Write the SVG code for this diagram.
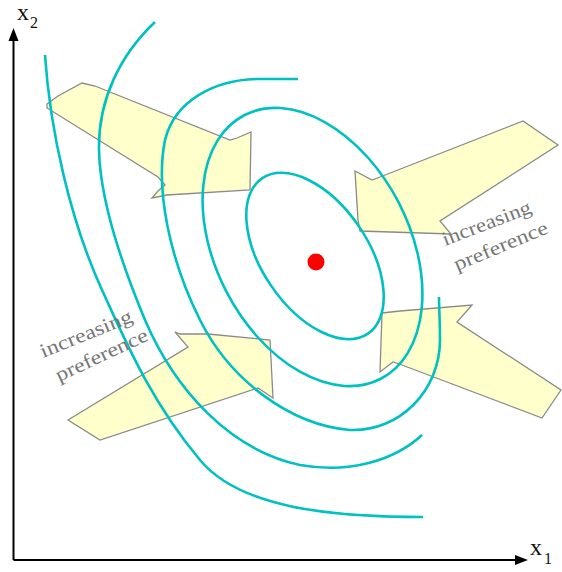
<svg xmlns="http://www.w3.org/2000/svg" width="562" height="572" viewBox="0 0 562 572">
<style>
.arr{fill:#FFFFCC;stroke:#8a8a8a;stroke-width:1.3;stroke-linejoin:miter}
.ct{fill:none;stroke:#00C0C0;stroke-width:2.6;stroke-linecap:butt}
.ax{stroke:#000;stroke-width:2;fill:none}
.lab{font-family:"Liberation Serif",serif;fill:#777;font-size:20px}
.axl{font-family:"Liberation Serif",serif;fill:#111}
</style>
<rect width="562" height="572" fill="#fff"/>
<g id="arrows">
<polygon id="arrow-tl" class="arr" points="47,104 58,96 82,83 95,86 230,140 237,138 251,132 250,190 167,195 152,198 158,191 165,185 158,177 47,108"/>
<polygon id="arrow-tr" class="arr" points="355,171 372,180 380,177 523,121 558,145 440,221 451,234 360,231 358,220"/>
<polygon id="arrow-br" class="arr" points="382,313 400,311 472,305 457,322 561,390 542,418 402,365 393,362 380,372"/>
<polygon id="arrow-bl" class="arr" points="68,420 188,347 175,332 180,334 208,334 270,340 273,398 258,388 100,440"/>
</g>
<g id="contours">
<ellipse id="c1" class="ct" cx="315" cy="256" rx="94" ry="53" transform="rotate(55.7 315 256)"/>
<ellipse id="c2" class="ct" cx="312.5" cy="247" rx="148.4" ry="97" transform="rotate(62.6 312.5 247)"/>
<path id="c3" class="ct" d="M298,79 L257,79 C215,80 175,100 165,140 C155,190 170,260 200,320 C230,380 290,425 350,430 C400,432 440,390 440,340 C440,320 439,310 439,297"/>
<path id="c4" class="ct" d="M155,22 C120,55 98,100 99,150 C100,200 120,260 145,320 C175,390 230,450 300,465 C350,474 395,460 422,435"/>
<path id="c5" class="ct" d="M45,55 C50,130 70,220 102,290 C125,340 150,400 200,460 C240,508 330,517 423,517"/>
</g>
<circle id="optimum" cx="316" cy="262" r="8.5" fill="#FF0000"/>
<g id="labels">
<text class="lab" x="445" y="246" textLength="94" lengthAdjust="spacingAndGlyphs" transform="rotate(-21 445 246)">increasing</text>
<text class="lab" x="457" y="271" textLength="100" lengthAdjust="spacingAndGlyphs" transform="rotate(-22.5 457 271)">preference</text>
<text class="lab" x="43" y="358" textLength="98" lengthAdjust="spacingAndGlyphs" transform="rotate(-22 43 358)">increasing</text>
<text class="lab" x="59" y="382" textLength="100" lengthAdjust="spacingAndGlyphs" transform="rotate(-25 59 382)">preference</text>
</g>
<g id="axes">
<path class="ax" d="M13.5,560 L13.5,38 M13.5,560 L518,560"/>
<polygon points="13.5,28 8.5,41 18.5,41" fill="#000"/>
<polygon points="528,560 515,555 515,565" fill="#000"/>
<text class="axl" x="17" y="20" font-size="24">x</text>
<text class="axl" x="30" y="28" font-size="16">2</text>
<text class="axl" x="530" y="555" font-size="24">x</text>
<text class="axl" x="544" y="564" font-size="16">1</text>
</g>
</svg>
